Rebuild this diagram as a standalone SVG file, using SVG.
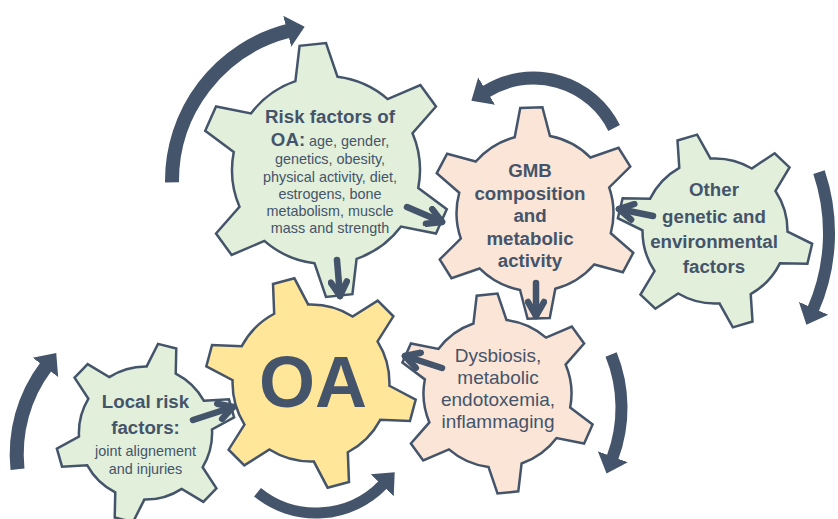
<svg xmlns="http://www.w3.org/2000/svg" xmlns:xlink="http://www.w3.org/1999/xlink" width="838" height="519" viewBox="0 0 838 519">
<style>
.gear{stroke:#44546a;stroke-linejoin:miter}
.green{fill:#e2efda}
.peach{fill:#fbe5d6}
.yellow{fill:#ffe699}
.t{font-family:"Liberation Sans",Arial,sans-serif;fill:#44546a;text-anchor:middle}
.b{font-weight:bold;font-size:18.7px}
.r{font-size:14.4px}
.arc{fill:none;stroke:#44546a;marker-end:url(#ah)}
.st{fill:none;stroke:#44546a;stroke-width:6.5;stroke-linecap:round;marker-end:url(#ch)}
</style>
<defs>
<path id="gear" d="M72.10,-16.65 L99.45,-10.45 L99.45,10.45 L72.10,16.65 A74,74 0 0,1 50.47,54.12 L58.78,80.90 L40.67,91.35 L21.64,70.77 A74,74 0 0,1 -21.64,70.77 L-40.67,91.35 L-58.78,80.90 L-50.47,54.12 A74,74 0 0,1 -72.10,16.65 L-99.45,10.45 L-99.45,-10.45 L-72.10,-16.65 A74,74 0 0,1 -50.47,-54.12 L-58.78,-80.90 L-40.67,-91.35 L-21.64,-70.77 A74,74 0 0,1 21.64,-70.77 L40.67,-91.35 L58.78,-80.90 L50.47,-54.12 A74,74 0 0,1 72.10,-16.65 Z"/>
<marker id="ah" markerUnits="userSpaceOnUse" markerWidth="20" markerHeight="34" refX="1" refY="17" orient="auto">
<path d="M0,1 L18,17 L0,33 Z" fill="#44546a"/>
</marker>
<marker id="ch" markerUnits="userSpaceOnUse" markerWidth="24" markerHeight="22" refX="18" refY="11" orient="auto">
<path d="M4,3 L18,11 L4,19" fill="none" stroke="#44546a" stroke-width="6.5" stroke-linecap="round" stroke-linejoin="round"/>
</marker>
</defs>

<g id="risk-factors">
<use href="#gear" class="gear green" transform="translate(326,170) rotate(24) scale(1.27)" style="stroke-width:1.97"/>
<text class="t b" x="330" y="122.7">Risk factors of</text>
<text class="t" x="330" y="145.7"><tspan class="b">OA:</tspan><tspan class="r"> age, gender,</tspan></text>
<text class="t r" x="330" y="164">genetics, obesity,</text>
<text class="t r" x="330" y="181.5">physical activity, diet,</text>
<text class="t r" x="330" y="199">estrogens, bone</text>
<text class="t r" x="330" y="216">metabolism, muscle</text>
<text class="t r" x="330" y="233.3">mass and strength</text>
</g>

<g id="gmb">
<use href="#gear" class="gear peach" transform="translate(535,213) rotate(28) scale(1.06)" style="stroke-width:2.36"/>
<text class="t b" x="530" y="177.3">GMB</text>
<text class="t b" x="530" y="200">composition</text>
<text class="t b" x="530" y="222.3">and</text>
<text class="t b" x="530" y="245">metabolic</text>
<text class="t b" x="530" y="266.7">activity</text>
</g>

<g id="other-factors">
<use href="#gear" class="gear green" transform="translate(715,231) rotate(13.5) scale(0.98)" style="stroke-width:2.55"/>
<text class="t b" x="714" y="196">Other</text>
<text class="t b" x="714" y="222.5">genetic and</text>
<text class="t b" x="714" y="247.7">environmental</text>
<text class="t b" x="714" y="273.3">factors</text>
</g>

<g id="oa">
<use href="#gear" class="gear yellow" transform="translate(311,383) rotate(15) scale(1.06)" style="stroke-width:2.36"/>
<text class="t" x="313" y="407" style="font-weight:bold;font-size:72px">OA</text>
</g>

<g id="local-risk">
<use href="#gear" class="gear green" transform="translate(145.5,433) rotate(-16) scale(0.9)" style="stroke-width:2.78"/>
<text class="t b" x="145.5" y="407.7">Local risk</text>
<text class="t b" x="145.5" y="434">factors:</text>
<text class="t r" x="145.5" y="455.7">joint alignement</text>
<text class="t r" x="145.5" y="474">and injuries</text>
</g>

<g id="dysbiosis">
<use href="#gear" class="gear peach" transform="translate(497.5,393.5) rotate(24)" style="stroke-width:2.5"/>
<text class="t" x="498" y="361.5" style="font-size:19px">Dysbiosis,</text>
<text class="t" x="498" y="383.5" style="font-size:19px">metabolic</text>
<text class="t" x="498" y="405.5" style="font-size:19px">endotoxemia,</text>
<text class="t" x="498" y="427.5" style="font-size:19px">inflammaging</text>
</g>

<g id="connectors">
<path class="arc" style="stroke-width:14" d="M172,182.4 A155,155 0 0,1 288.2,30.9"/>
<path class="arc" style="stroke-width:13" d="M614.1,128 A90,90 0 0,0 485.8,91.7"/>
<path class="arc" style="stroke-width:12" d="M819,172.1 A191,191 0 0,1 813.2,309.2"/>
<path class="arc" style="stroke-width:12" d="M611.1,354.6 A142,142 0 0,1 612.5,457.7"/>
<path class="arc" style="stroke-width:11" d="M257.5,492.3 A93,93 0 0,0 382.9,484.6"/>
<path class="arc" style="stroke-width:14" d="M17.5,469.2 A145.3,145.3 0 0,1 46,366.6"/>
<path class="st" d="M407,207 L442,222"/>
<path class="st" d="M337,260 L340,296"/>
<path class="st" d="M653,216 L619,209"/>
<path class="st" d="M536,283 L536,316"/>
<path class="st" d="M442,368 L405,356"/>
<path class="st" d="M193,420 L233,407"/>
</g>
</svg>
